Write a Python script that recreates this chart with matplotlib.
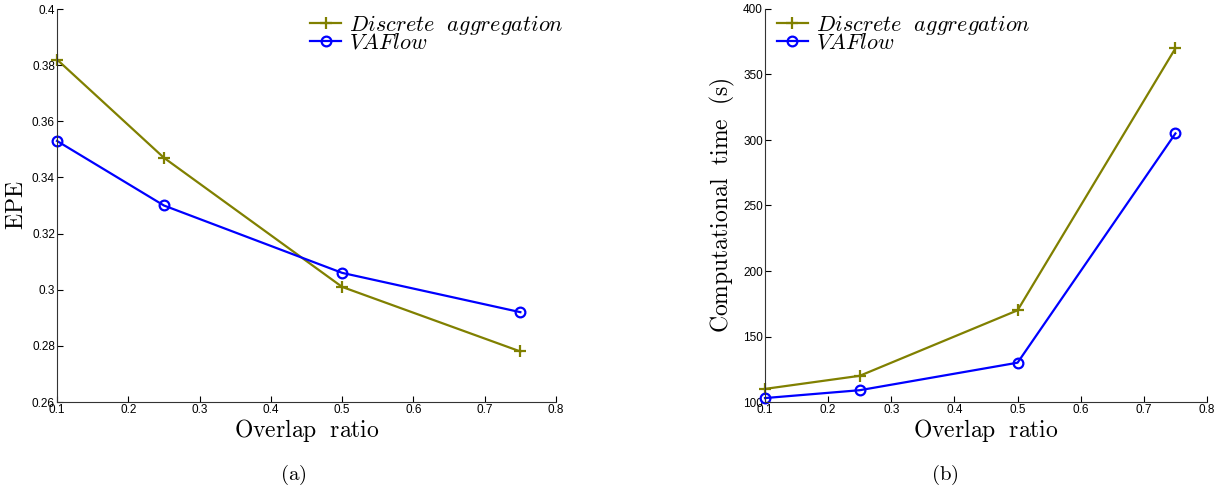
import matplotlib
matplotlib.use("Agg")
import matplotlib.pyplot as plt

plt.rcParams["mathtext.fontset"] = "cm"
plt.rcParams["font.family"] = ["Liberation Sans", "DejaVu Sans"]

overlap = [0.1, 0.25, 0.5, 0.75]
epe_discrete = [0.382, 0.347, 0.301, 0.278]
epe_vaflow = [0.353, 0.330, 0.306, 0.292]
time_discrete = [110, 120, 170, 370]
time_vaflow = [103, 109, 130, 305]

labels = [r"$Discrete\ \ aggregation$", r"$VAFlow$"]
olive = "#808000"
blue = "#0000ff"

fig = plt.figure(figsize=(12.19, 4.90), dpi=100)
ax1 = fig.add_axes([57 / 1219, 88 / 490, 499 / 1219, 393 / 490])
ax2 = fig.add_axes([765 / 1219, 88 / 490, 442 / 1219, 393 / 490])


def style(ax, yticks, yticklabels):
    ax.set_xlim(0.1, 0.8)
    ax.set_ylim(yticks[0], yticks[-1])
    ax.set_xticks([0.1, 0.2, 0.3, 0.4, 0.5, 0.6, 0.7, 0.8])
    ax.set_xticklabels(["0.1", "0.2", "0.3", "0.4", "0.5", "0.6", "0.7", "0.8"])
    ax.set_yticks(yticks)
    ax.set_yticklabels(yticklabels)
    ax.spines["top"].set_visible(False)
    ax.spines["right"].set_visible(False)
    for s in ("left", "bottom"):
        ax.spines[s].set_color("#333333")
    ax.tick_params(direction="in", length=4, width=0.8, labelsize=8.5, pad=1.5)
    ax.set_xlabel(r"$\mathrm{Overlap\ \ ratio}$", fontsize=17, labelpad=1)


for ax, d, v in [(ax1, epe_discrete, epe_vaflow), (ax2, time_discrete, time_vaflow)]:
    ax.plot(overlap, d, color=olive, marker="+", markersize=8, mew=1.6, lw=1.6,
            label=labels[0], clip_on=False)
    ax.plot(overlap, v, color=blue, marker="o", markersize=7, mfc="none",
            mew=1.6, lw=1.6, label=labels[1], clip_on=False)

style(ax1, [0.26, 0.28, 0.30, 0.32, 0.34, 0.36, 0.38, 0.40],
      ["0.26", "0.28", "0.3", "0.32", "0.34", "0.36", "0.38", "0.4"])
style(ax2, [100, 150, 200, 250, 300, 350, 400],
      ["100", "150", "200", "250", "300", "350", "400"])

ax1.set_ylabel(r"$\mathrm{EPE}$", fontsize=17, labelpad=3)
ax2.set_ylabel(r"$\mathrm{Computational\ \ time\ \ (s)}$", fontsize=17, labelpad=4)

for ax, x0 in [(ax1, 0.507), (ax2, 0.027)]:
    ax.legend(loc="upper left", bbox_to_anchor=(x0, 0.99), frameon=False,
              fontsize=16, handlelength=1.4, handletextpad=0.35,
              borderpad=0, labelspacing=-0.2, borderaxespad=0)

fig.text(293 / 1219, 1 - 475 / 490, r"$\mathrm{(a)}$", fontsize=15, ha="center", va="center")
fig.text(945 / 1219, 1 - 475 / 490, r"$\mathrm{(b)}$", fontsize=15, ha="center", va="center")

fig.savefig("out.png", dpi=100)
